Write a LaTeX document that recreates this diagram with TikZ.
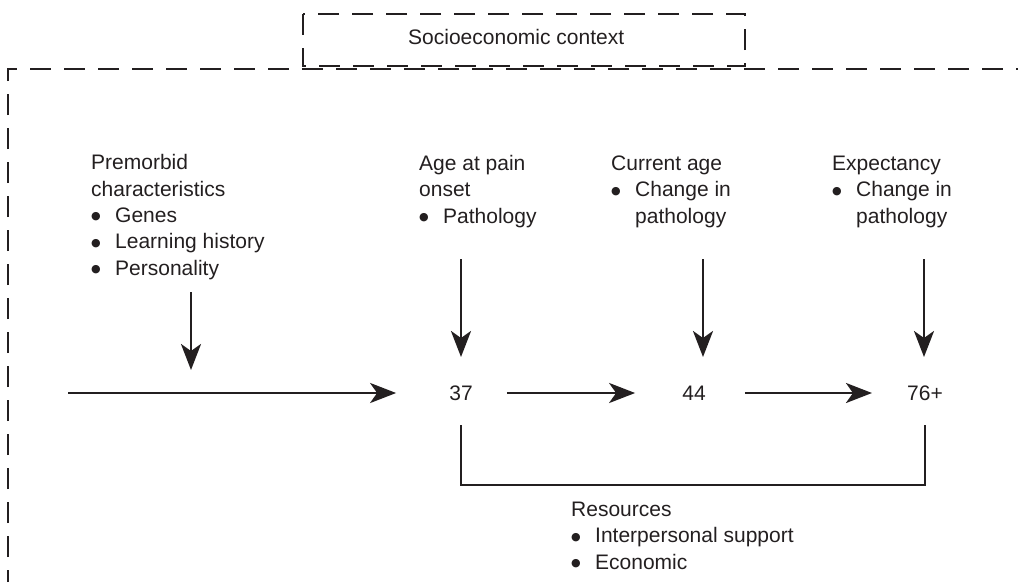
\documentclass[tikz,border=0pt]{standalone}
\usepackage{fontspec}
\setmainfont{Liberation Sans}
\newfontfamily\dotfont{DejaVu Sans}
\usetikzlibrary{arrows.meta,calc}
\definecolor{ink}{HTML}{231F20}
\newcommand{\itm}{\makebox[24pt][l]{\raisebox{2.5pt}{\dotfont\fontsize{11}{11}\selectfont ●}}}
\newcommand{\ind}{\hspace*{24pt}}
\tikzset{
  txt/.style={anchor=base west,align=left,inner sep=0pt,text=ink,font=\fontsize{21}{26.3}\selectfont},
  num/.style={inner sep=6pt,text=ink,font=\fontsize{21}{26.3}\selectfont},
  arr/.style={draw=ink,line width=2.8pt,-{Stealth[length=26pt,width=20pt,inset=7pt]}},
  link/.style={draw=ink,line width=2.8pt},
  ctxline/.style={draw=ink,line width=2.6pt,dash pattern=on 21pt off 13pt},
}

\begin{document}
\begin{tikzpicture}[x=1pt,y=-1pt]
\useasboundingbox (0,0) rectangle (1018,582);
% context frames
\draw[ctxline,dash phase=9pt] (8,582) -- (8,69) -- (1018,69);
\draw[ctxline] (303,14) rectangle (745,66);
\node[txt] (ctx) at (408,44) {Socioeconomic context};
% factors (base = last line)
\node[txt] (pre) at (91,275) {Premorbid\\characteristics\\\itm Genes\\\itm Learning history\\\itm Personality};
\node[txt] (ons) at (419,223) {Age at pain\\onset\\\itm Pathology};
\node[txt] (cur) at (611,223) {Current age\\\itm Change in\\\ind pathology};
\node[txt] (exp) at (832,223) {Expectancy\\\itm Change in\\\ind pathology};
\foreach \n/\x/\ya/\yb in {pm/191/292/370,on/461/259/357,cu/703/259/357,ex/924/259/357} {
\coordinate (\n top) at (\x,\ya);
\coordinate (\n tip) at (\x,\yb);
\draw[arr] (\n top) -- (\n tip);}
% ages
\coordinate (birth) at (68,393);
\node[num] (n37) at (461,393) {37};
\node[num] (n44) at (694,393) {44};
\node[num] (n76) at (925,393) {76+};
\draw[arr,shorten >=47pt] (birth) -- (n37);
\draw[arr,shorten <=28pt,shorten >=41pt] (n37) -- (n44);
\draw[arr,shorten <=33pt,shorten >=29pt] (n44) -- (n76);
% resources
\draw[link] (n37.center) ++(0,32) -- ++(0,60) -| ([yshift=-32pt]n76.center);
\node[txt] (res) at (571,569) {Resources\\\itm Interpersonal support\\\itm Economic};
\end{tikzpicture}
\end{document}
